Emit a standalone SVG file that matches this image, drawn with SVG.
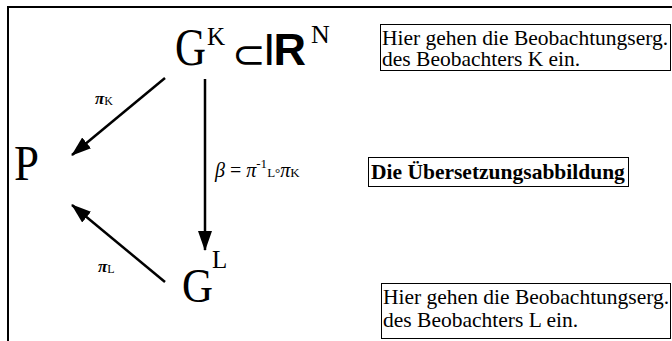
<svg xmlns="http://www.w3.org/2000/svg" width="672" height="341" viewBox="0 0 672 341">
<style>
.serif{font-family:"Liberation Serif","Times New Roman",serif;fill:#000}
.box{fill:none;stroke:#000;stroke-width:1}
.con{stroke:#000;stroke-width:2.5;fill:none}
</style>
<defs>
<marker id="ah" viewBox="0 0 20 14" refX="19" refY="7" markerWidth="20" markerHeight="14" markerUnits="userSpaceOnUse" orient="auto">
<path d="M0,0 L20,7 L0,14 z" fill="#000"/>
</marker>
</defs>
<rect width="672" height="341" fill="#fff"/>
<path d="M8,341 V7 H672" fill="none" stroke="#000" stroke-width="2"/>
<g id="node-GK">
<text class="serif" x="175" y="65" font-size="53" textLength="31" lengthAdjust="spacingAndGlyphs">G</text>
<text class="serif" x="207" y="45" font-size="25">K</text>
<text x="232" y="68" font-family="DejaVu Sans,sans-serif" font-weight="200" font-size="40">⊂</text>
<text x="263" y="65" font-family="Liberation Sans,Arial,sans-serif" font-size="45" letter-spacing="-2">I<tspan font-weight="bold">R</tspan></text>
<text class="serif" x="311" y="43" font-size="26">N</text>
</g>
<g id="node-P">
<text class="serif" x="14" y="180" font-size="50" textLength="25" lengthAdjust="spacingAndGlyphs">P</text>
</g>
<g id="node-GL">
<text class="serif" x="182" y="302" font-size="49" textLength="31" lengthAdjust="spacingAndGlyphs">G</text>
<text class="serif" x="212" y="268" font-size="25">L</text>
</g>
<g id="box-K">
<rect class="box" x="380.5" y="24.5" width="290" height="46"/>
<text class="serif" x="382" y="45" font-size="21.5">Hier gehen die Beobachtungserg.</text>
<text class="serif" x="382" y="66" font-size="21.5">des Beobachters K ein.</text>
</g>
<g id="box-beta">
<rect class="box" x="368.5" y="157.5" width="260" height="29"/>
<text class="serif" x="371" y="179" font-size="21.5" font-weight="bold">Die Übersetzungsabbildung</text>
</g>
<g id="box-L">
<rect class="box" x="381.5" y="283.5" width="289" height="55"/>
<text class="serif" x="383" y="304" font-size="21.5">Hier gehen die Beobachtungserg.</text>
<text class="serif" x="383" y="327" font-size="21.5">des Beobachters L ein.</text>
</g>
<g id="connectors">
<line class="con" x1="205" y1="79" x2="205" y2="250" marker-end="url(#ah)"/>
<line class="con" x1="165" y1="78" x2="72" y2="155" marker-end="url(#ah)"/>
<line class="con" x1="165" y1="282" x2="72" y2="205" marker-end="url(#ah)"/>
</g>
<g id="labels">
<text class="serif" x="95" y="104" font-size="17" font-weight="bold" font-style="italic">π<tspan font-size="12" font-weight="normal" font-style="normal" dy="1">K</tspan></text>
<text class="serif" x="98" y="272" font-size="17" font-weight="bold" font-style="italic">π<tspan font-size="12" font-weight="normal" font-style="normal" dy="1">L</tspan></text>
<text class="serif" x="215" y="177" font-size="20" font-style="italic">β<tspan font-style="normal"> = </tspan>π<tspan font-size="13" font-style="normal" dy="-9">-1</tspan><tspan font-size="13" font-style="normal" dy="9">L</tspan><tspan font-size="13" font-style="normal">°</tspan>π<tspan font-size="13" font-style="normal">K</tspan></text>
</g>
</svg>
